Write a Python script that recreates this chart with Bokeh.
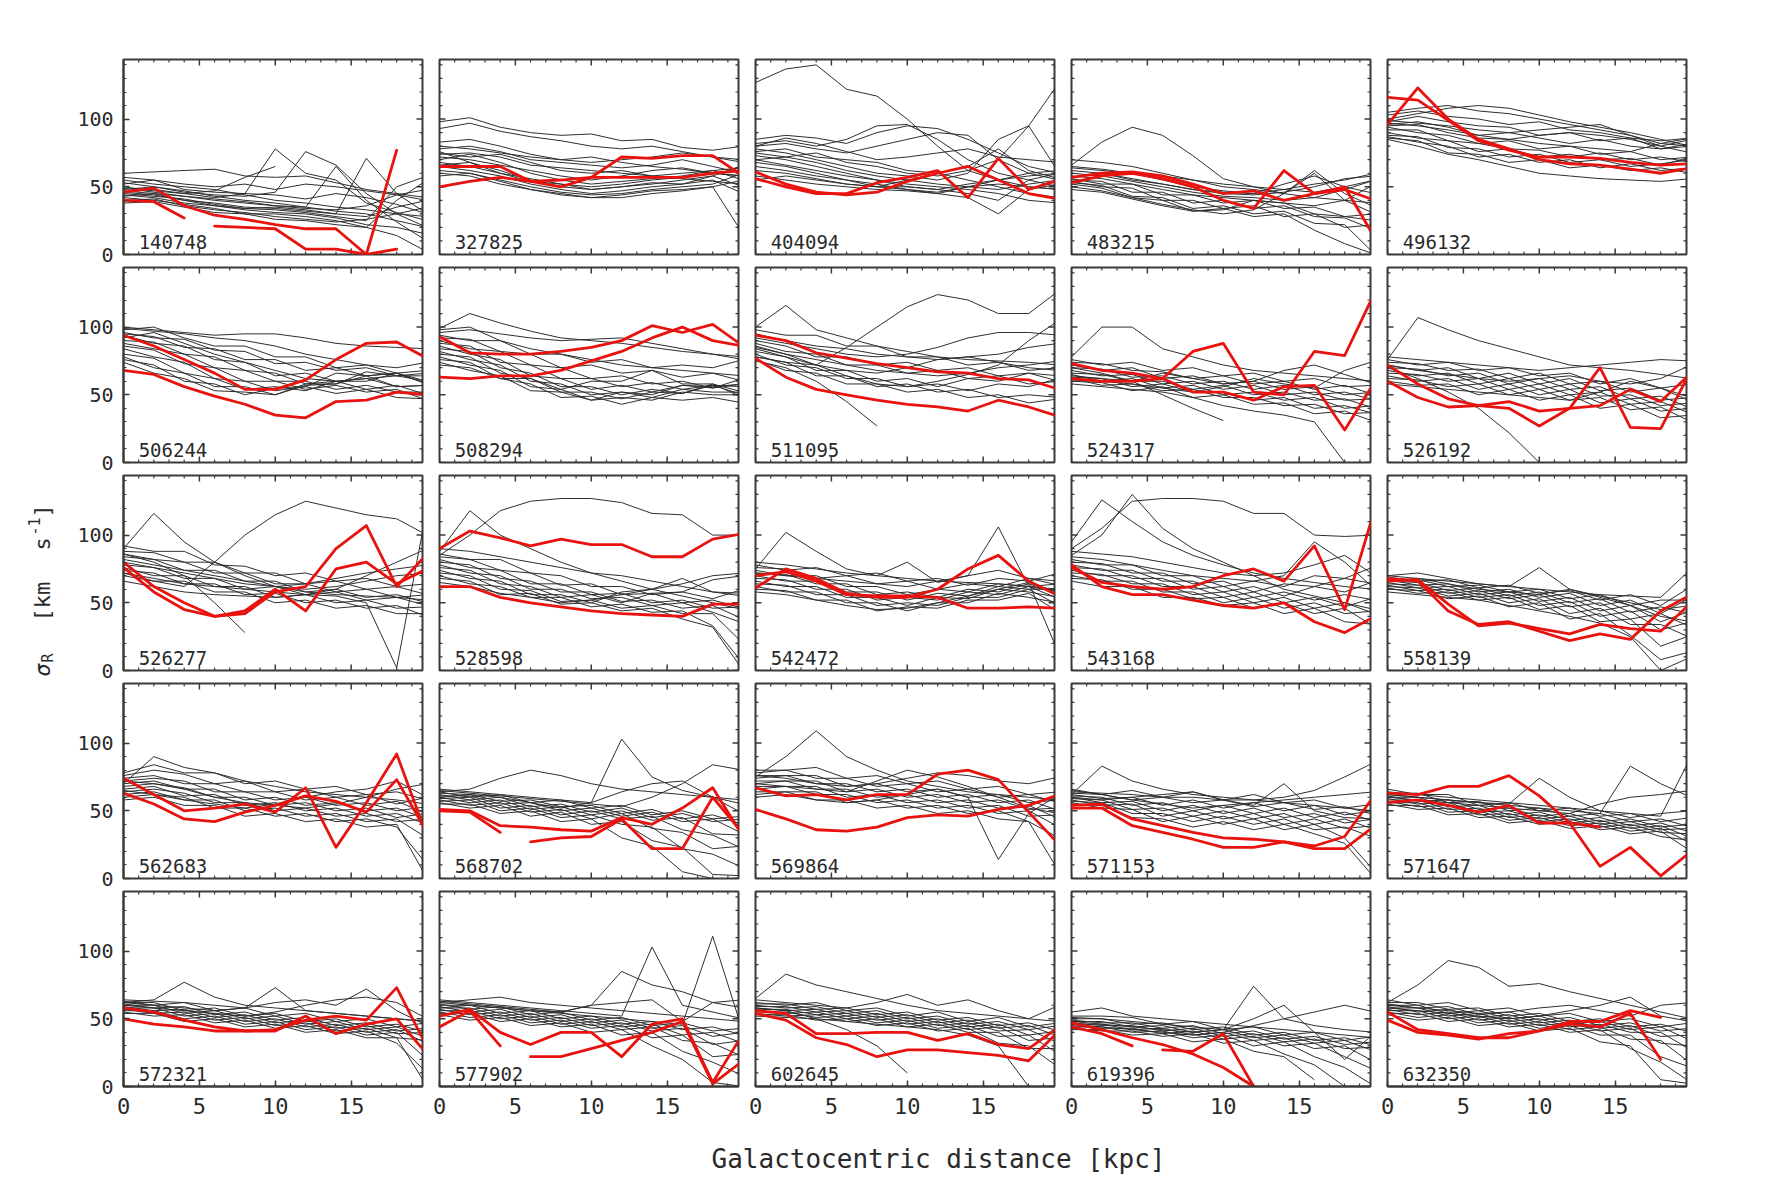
import numpy as np
from bokeh.plotting import figure
from bokeh.layouts import row, column
from bokeh.models import SingleIntervalTicker, Range1d, Label
from bokeh.embed import file_html
from bokeh.resources import INLINE
from bokeh.core.properties import value

N = None
R_KPC = [0, 2, 4, 6, 8, 10, 12, 14, 16, 18, 20]

IDS = ["140748", "327825", "404094", "483215", "496132",
       "506244", "508294", "511095", "524317", "526192",
       "526277", "528598", "542472", "543168", "558139",
       "562683", "568702", "569864", "571153", "571647",
       "572321", "577902", "602645", "619396", "632350"]

# ---------------- black (other) profiles, sigma_R [km/s] at R_KPC ----------------
BLACK_140748 = [
    [60, 61, 62, 63, 58, 57, 58, 53, 48, 45, 42],
    [57, 55, 52, 50, 52, 48, 52, 50, 47, 44, 40],
    [52, 55, 48, 46, 45, 44, 41, 45, 42, 37, 30],
    [50, 47, 45, 42, 45, 78, 60, 55, 38, 31, 25],
    [48, 50, 46, 44, 43, 46, 76, 66, 45, 30, 20],
    [47, 45, 43, 40, 38, 36, 35, 65, 40, 24, 10],
    [46, 44, 40, 38, 35, 34, 32, 30, 71, 45, 30],
    [45, 43, 41, 37, 34, 33, 31, 28, 25, 50, 58],
    [44, 42, 38, 36, 33, 31, 30, 27, 22, 20, 15],
    [42, 40, 37, 34, 30, 30, 28, 25, 20, 14, 2],
    [40, 41, 36, 33, 31, 28, 26, 24, 26, 30, 35],
    [38, 39, 35, 31, 30, 26, 25, 22, 20, 40, 55],
    [55, 52, 50, 48, 44, 40, 38, 35, 33, 30, 28],
    [53, 50, 47, 43, 40, 38, 35, 32, 30, 25, 20],
    [49, 46, 43, 41, 39, 36, 34, 33, 36, 44, 48],
    [43, 45, 40, 36, 34, 35, 33, 30, 28, 35, 40],
    [46, 48, 45, 47, 57, 65, N, N, N, N, N],
]
BLACK_327825 = [
    [98, 101, 94, 90, 88, 89, 84, 85, 79, 77, 80],
    [93, 97, 91, 87, 84, 80, 78, 80, 76, 72, 70],
    [80, 78, 75, 72, 70, 68, 70, 72, 75, 72, 68],
    [78, 80, 76, 70, 68, 66, 64, 66, 70, 65, 60],
    [75, 72, 74, 68, 62, 60, 62, 58, 60, 62, 55],
    [72, 70, 66, 62, 58, 55, 58, 62, 64, 60, 58],
    [70, 74, 68, 60, 55, 52, 54, 56, 58, 62, 64],
    [68, 65, 60, 56, 52, 50, 52, 55, 57, 60, 62],
    [66, 68, 62, 55, 50, 48, 50, 52, 55, 58, 50],
    [65, 62, 58, 52, 48, 45, 47, 50, 52, 55, 45],
    [62, 60, 55, 50, 46, 44, 45, 48, 50, 52, 60],
    [60, 58, 52, 48, 45, 42, 44, 47, 48, 50, 15],
    [58, 60, 54, 48, 44, 42, 42, 45, 47, 50, 55],
    [74, 75, 72, 66, 64, 62, 60, 58, 56, 54, 52],
    [83, 85, 80, 74, 70, 72, 68, 65, 63, 60, 58],
    [76, 68, 60, 54, 52, 48, 50, 53, 52, 58, 66],
]
BLACK_404094 = [
    [127, 137, 140, 122, 117, 100, 80, 62, 55, 50, 48],
    [70, 72, 75, 68, 65, 60, 58, 62, 70, 95, 127],
    [85, 88, 86, 82, 90, 95, 93, 85, 75, 65, 60],
    [82, 84, 80, 85, 95, 96, 85, 70, 60, 55, 50],
    [80, 82, 78, 75, 80, 85, 90, 88, 70, 60, 55],
    [78, 75, 70, 65, 60, 58, 55, 60, 85, 95, 60],
    [76, 78, 72, 70, 68, 62, 60, 55, 50, 45, 42],
    [75, 72, 68, 62, 58, 55, 52, 50, 48, 52, 55],
    [73, 70, 65, 60, 55, 52, 50, 48, 45, 40, 38],
    [70, 66, 62, 58, 55, 50, 48, 52, 55, 58, 60],
    [68, 65, 60, 55, 52, 48, 46, 50, 52, 50, 48],
    [65, 62, 58, 55, 50, 50, 48, 45, 40, 55, 60],
    [62, 60, 56, 52, 50, 48, 45, 42, 30, 48, 52],
    [58, 55, 52, 50, 48, 47, 45, 50, 55, 60, 62],
    [55, 58, 55, 52, 50, 55, 60, 65, 78, 62, 56],
    [80, 86, 82, 76, 70, 72, 75, 78, 72, 70, 68],
]
BLACK_483215 = [
    [66, 83, 94, 88, 73, 56, 50, 45, 42, 40, 38],
    [70, 68, 65, 60, 55, 50, 48, 45, 60, 40, 30],
    [65, 63, 60, 55, 50, 47, 45, 48, 52, 55, 60],
    [62, 60, 56, 52, 48, 45, 44, 46, 50, 56, 58],
    [60, 58, 54, 50, 46, 43, 42, 40, 42, 48, 55],
    [58, 56, 52, 48, 44, 42, 40, 38, 36, 40, 52],
    [56, 52, 52, 44, 44, 38, 40, 34, 35, 28, 30],
    [55, 54, 46, 46, 38, 40, 34, 36, 28, 27, 18],
    [54, 50, 49, 40, 40, 34, 36, 28, 30, 20, 22],
    [53, 51, 43, 42, 34, 36, 30, 32, 23, 22, 0],
    [52, 49, 42, 40, 32, 34, 28, 30, 18, 8, 0],
    [50, 47, 42, 37, 33, 30, 33, 45, 62, 45, 35],
    [48, 46, 41, 36, 32, 33, 40, 38, 30, 28, 25],
    [64, 62, 60, 58, 55, 52, 50, 48, 46, 50, 55],
    [57, 60, 55, 52, 48, 46, 45, 52, 58, 50, 45],
]
BLACK_496132 = [
    [105, 108, 110, 106, 104, 100, 96, 92, 88, 82, 80],
    [103, 106, 102, 100, 96, 98, 92, 90, 86, 84, 86],
    [100, 104, 108, 110, 108, 103, 98, 94, 90, 85, 80],
    [98, 102, 98, 95, 94, 88, 90, 84, 86, 78, 80],
    [96, 98, 94, 88, 90, 86, 82, 85, 80, 78, 82],
    [95, 96, 90, 86, 85, 88, 90, 88, 85, 80, 75],
    [94, 90, 88, 82, 84, 78, 80, 74, 76, 70, 72],
    [92, 92, 84, 82, 78, 77, 72, 75, 70, 72, 68],
    [90, 86, 84, 76, 78, 72, 74, 70, 71, 66, 72],
    [88, 87, 79, 78, 72, 74, 68, 70, 65, 67, 70],
    [87, 83, 80, 72, 74, 68, 70, 64, 67, 62, 64],
    [86, 84, 75, 74, 68, 70, 64, 66, 62, 64, 60],
    [85, 80, 74, 70, 65, 60, 58, 56, 55, 54, 56],
    [99, 97, 95, 92, 90, 92, 94, 96, 88, 80, 85],
    [97, 95, 92, 88, 85, 82, 80, 78, 76, 82, 86],
]
BLACK_506244 = [
    [100, 98, 96, 94, 95, 95, 92, 88, 86, 85, 84],
    [98, 100, 92, 86, 86, 78, 78, 70, 72, 66, 68],
    [96, 92, 91, 83, 82, 73, 74, 68, 70, 64, 66],
    [95, 93, 85, 84, 76, 76, 68, 70, 64, 66, 60],
    [94, 88, 86, 76, 74, 64, 66, 60, 62, 56, 57],
    [92, 96, 88, 80, 74, 68, 62, 60, 62, 64, 60],
    [90, 89, 80, 78, 68, 66, 58, 60, 54, 57, 50],
    [88, 84, 80, 70, 68, 60, 60, 54, 57, 52, 52],
    [86, 83, 73, 70, 60, 60, 54, 57, 52, 54, 46],
    [84, 78, 74, 62, 60, 53, 56, 51, 54, 48, 47],
    [80, 77, 66, 62, 54, 56, 53, 60, 60, 66, 58],
    [78, 70, 66, 56, 56, 50, 57, 58, 67, 64, 64],
    [76, 72, 60, 58, 50, 55, 56, 66, 64, 66, 58],
    [74, 66, 62, 53, 52, 50, 58, 58, 64, 56, 57],
    [99, 97, 95, 92, 90, 86, 80, 76, 72, 70, 74],
]
BLACK_508294 = [
    [99, 110, 103, 97, 92, 90, 88, 85, 82, 80, 78],
    [96, 98, 95, 92, 90, 91, 92, 88, 84, 80, 76],
    [94, 90, 90, 80, 80, 74, 76, 70, 72, 70, 76],
    [92, 91, 82, 80, 70, 72, 66, 68, 63, 66, 60],
    [90, 84, 82, 72, 70, 62, 64, 58, 60, 55, 58],
    [88, 86, 74, 72, 62, 62, 56, 59, 54, 57, 56],
    [86, 80, 76, 64, 62, 54, 57, 52, 57, 55, 62],
    [84, 82, 70, 66, 56, 56, 50, 54, 51, 57, 50],
    [82, 76, 72, 60, 58, 50, 52, 48, 54, 52, 52],
    [80, 78, 66, 62, 52, 52, 47, 52, 51, 58, 48],
    [78, 72, 68, 56, 54, 46, 48, 46, 52, 50, 50],
    [76, 74, 62, 58, 48, 49, 43, 48, 46, 48, 44],
    [74, 68, 64, 53, 52, 46, 52, 50, 57, 56, 58],
    [72, 70, 62, 62, 54, 60, 60, 68, 58, 58, 52],
    [98, 100, 90, 84, 80, 76, 72, 70, 68, 66, 64],
]
BLACK_511095 = [
    [100, 116, 98, 92, 86, 82, 78, 76, 75, 74, 72],
    [98, 94, 94, 86, 86, 78, 78, 72, 74, 68, 70],
    [95, 90, 86, 84, 80, 78, 76, 78, 80, 85, 88],
    [92, 88, 84, 80, 78, 80, 85, 92, 96, 96, 94],
    [90, 86, 78, 78, 72, 74, 68, 70, 64, 66, 60],
    [88, 82, 80, 72, 72, 66, 68, 62, 64, 58, 60],
    [86, 80, 76, 72, 68, 66, 64, 66, 70, 72, 75],
    [84, 78, 72, 68, 66, 70, 76, 78, 74, 70, 68],
    [82, 78, 68, 68, 60, 62, 56, 62, 60, 66, 64],
    [80, 72, 70, 62, 62, 56, 58, 53, 58, 56, 62],
    [78, 74, 64, 64, 56, 58, 52, 54, 48, 50, 48],
    [76, 68, 66, 58, 58, 52, 54, 48, 50, 44, 47],
    [75, 70, 60, 45, 27, N, N, N, N, N, N],
    [78, 74, 72, 85, 100, 115, 124, 120, 110, 110, 127],
    [85, 80, 72, 64, 58, 56, 60, 65, 72, 90, 105],
]
BLACK_524317 = [
    [78, 100, 100, 84, 78, 72, 68, 66, 64, 62, 60],
    [76, 72, 74, 68, 70, 64, 66, 60, 62, 56, 57],
    [74, 73, 68, 67, 62, 64, 58, 60, 54, 57, 50],
    [72, 68, 70, 62, 64, 58, 60, 54, 56, 50, 52],
    [70, 69, 63, 64, 58, 60, 54, 57, 50, 52, 46],
    [68, 64, 65, 58, 60, 54, 57, 50, 52, 46, 47],
    [66, 65, 60, 60, 54, 57, 50, 52, 46, 47, 40],
    [65, 60, 62, 55, 57, 50, 52, 46, 48, 40, 42],
    [63, 62, 56, 58, 52, 52, 46, 48, 40, 42, 36],
    [62, 57, 58, 53, 54, 48, 48, 42, 43, 36, 37],
    [60, 59, 53, 56, 48, 50, 43, 44, 36, 38, 30],
    [58, 56, 54, 52, 48, 42, 38, 35, 30, 0, N],
    [70, 66, 60, 50, 40, 31, N, N, N, N, N],
    [64, 62, 60, 66, 62, 58, 60, 68, 72, 65, 58],
    [61, 60, 58, 55, 52, 56, 62, 58, 55, 68, 75],
]
BLACK_526192 = [
    [76, 107, 98, 90, 84, 78, 72, 70, 68, 65, 62],
    [78, 76, 74, 72, 70, 68, 70, 72, 74, 76, 75],
    [76, 72, 74, 68, 70, 64, 66, 58, 62, 55, 58],
    [74, 73, 68, 69, 62, 66, 58, 60, 52, 55, 48],
    [72, 68, 70, 62, 66, 58, 62, 53, 55, 46, 48],
    [70, 69, 64, 66, 58, 62, 54, 56, 47, 49, 40],
    [68, 64, 66, 58, 62, 54, 58, 49, 50, 42, 44],
    [66, 65, 60, 62, 54, 58, 50, 52, 43, 45, 36],
    [64, 60, 62, 54, 58, 50, 54, 44, 47, 38, 40],
    [62, 61, 56, 58, 50, 54, 46, 48, 39, 41, 30],
    [60, 57, 58, 50, 54, 46, 50, 40, 43, 33, 35],
    [70, 62, 52, 40, 22, 0, N, N, N, N, N],
    [58, 56, 54, 52, 50, 48, 46, 52, 60, 55, 45],
    [72, 68, 65, 62, 60, 62, 64, 60, 58, 62, 72],
]
BLACK_526277 = [
    [90, 116, 95, 80, 70, 62, 58, 56, 55, 54, 52],
    [92, 88, 88, 78, 77, 70, 72, 66, 68, 62, 64],
    [88, 87, 80, 80, 72, 72, 64, 66, 60, 62, 56],
    [86, 82, 80, 72, 72, 64, 64, 58, 60, 54, 56],
    [84, 82, 74, 74, 66, 66, 58, 60, 54, 56, 50],
    [82, 78, 74, 70, 66, 62, 60, 62, 66, 70, 72],
    [80, 76, 72, 68, 64, 62, 64, 68, 72, 75, 78],
    [78, 76, 68, 68, 60, 62, 56, 58, 52, 54, 48],
    [76, 70, 70, 62, 62, 54, 56, 50, 52, 46, 47],
    [74, 72, 64, 64, 56, 57, 50, 52, 46, 48, 40],
    [72, 66, 66, 58, 58, 50, 52, 46, 48, 42, 42],
    [86, 80, 70, 50, 28, N, N, N, N, N, N],
    [70, 66, 62, 80, 100, 115, 125, 120, 115, 112, 100],
    [72, 68, 64, 62, 60, 58, 56, 55, 50, 2, 120],
    [66, 62, 58, 56, 55, 54, 56, 60, 70, 80, 90],
]
BLACK_528598 = [
    [85, 100, 118, 125, 127, 127, 124, 116, 115, 100, 100],
    [88, 118, 100, 90, 80, 72, 66, 60, 55, 50, 45],
    [86, 82, 82, 72, 70, 62, 62, 56, 58, 53, 60],
    [84, 82, 74, 72, 63, 64, 56, 57, 50, 52, 46],
    [82, 76, 74, 64, 64, 56, 57, 50, 52, 46, 47],
    [80, 78, 68, 66, 58, 58, 51, 52, 46, 48, 38],
    [78, 72, 70, 60, 60, 53, 54, 48, 50, 43, 35],
    [76, 74, 64, 62, 54, 56, 50, 57, 58, 67, 70],
    [74, 68, 66, 56, 56, 50, 58, 60, 68, 58, 57],
    [72, 70, 60, 59, 51, 52, 46, 48, 42, 42, 20],
    [70, 64, 62, 54, 54, 47, 49, 43, 44, 33, 5],
    [68, 66, 56, 57, 49, 50, 44, 46, 38, 32, 0],
    [65, 62, 57, 54, 50, 52, 56, 60, 64, 70, 72],
    [90, 88, 84, 80, 76, 72, 70, 66, 62, 58, 55],
]
BLACK_542472 = [
    [75, 102, 88, 75, 70, 68, 66, 65, 64, 62, 60],
    [78, 74, 76, 70, 72, 66, 68, 63, 68, 66, 72],
    [76, 75, 68, 70, 64, 66, 60, 64, 62, 68, 63],
    [74, 70, 70, 62, 62, 56, 60, 58, 64, 62, 64],
    [72, 71, 64, 64, 56, 58, 54, 60, 58, 64, 58],
    [70, 66, 66, 58, 58, 52, 57, 55, 62, 60, 60],
    [68, 67, 60, 60, 52, 54, 52, 58, 56, 62, 53],
    [66, 62, 62, 54, 54, 48, 54, 53, 60, 58, 54],
    [64, 63, 56, 56, 48, 50, 48, 54, 54, 60, 48],
    [62, 58, 58, 50, 50, 44, 50, 50, 57, 54, 50],
    [60, 59, 52, 52, 44, 47, 46, 52, 52, 57, 43],
    [58, 56, 52, 48, 45, 46, 50, 55, 60, 65, 12],
    [80, 78, 75, 72, 70, 80, 65, 70, 106, 62, 58],
    [72, 70, 68, 66, 64, 62, 66, 70, 74, 68, 66],
]
BLACK_543168 = [
    [85, 100, 130, 105, 90, 80, 70, 60, 55, 50, 45],
    [90, 105, 125, 127, 127, 125, 116, 116, 100, 99, 100],
    [95, 126, 110, 95, 85, 78, 72, 68, 65, 62, 60],
    [88, 86, 84, 80, 76, 72, 70, 72, 78, 85, 70],
    [84, 82, 78, 74, 70, 68, 66, 70, 95, 80, 60],
    [82, 78, 78, 70, 70, 62, 66, 62, 70, 68, 77],
    [80, 79, 72, 72, 64, 66, 58, 64, 62, 68, 64],
    [78, 74, 74, 66, 66, 58, 62, 55, 62, 58, 66],
    [76, 75, 68, 68, 60, 62, 54, 58, 52, 56, 52],
    [74, 70, 70, 62, 62, 54, 58, 50, 54, 47, 54],
    [72, 71, 64, 64, 56, 58, 50, 54, 46, 50, 42],
    [70, 66, 66, 58, 58, 50, 54, 46, 50, 42, 44],
    [68, 67, 60, 60, 53, 54, 46, 50, 42, 46, 32],
    [66, 62, 62, 54, 54, 48, 50, 42, 46, 36, 34],
]
BLACK_558139 = [
    [70, 68, 66, 64, 62, 60, 58, 56, 55, 54, 75],
    [69, 66, 67, 61, 63, 57, 59, 52, 56, 48, 62],
    [68, 67, 62, 63, 58, 60, 53, 56, 48, 52, 52],
    [67, 63, 64, 58, 60, 54, 57, 48, 52, 42, 54],
    [66, 65, 59, 61, 55, 58, 50, 53, 43, 47, 42],
    [65, 61, 62, 56, 58, 51, 54, 44, 48, 36, 44],
    [64, 63, 57, 59, 53, 56, 47, 50, 38, 42, 32],
    [63, 59, 60, 54, 56, 48, 51, 40, 44, 30, 36],
    [62, 61, 55, 57, 50, 53, 42, 46, 34, 34, 24],
    [61, 57, 58, 52, 54, 45, 48, 36, 38, 18, 26],
    [60, 59, 53, 55, 47, 50, 38, 42, 26, 8, 14],
    [58, 56, 54, 52, 48, 44, 40, 35, 25, 0, 10],
    [70, 72, 68, 64, 62, 76, 60, 55, 50, 45, 48],
    [66, 68, 64, 60, 58, 56, 60, 54, 48, 40, 36],
]
BLACK_562683 = [
    [70, 90, 82, 78, 72, 68, 64, 62, 60, 58, 55],
    [78, 84, 78, 78, 70, 72, 66, 68, 62, 64, 58],
    [76, 80, 77, 70, 72, 64, 66, 60, 62, 55, 60],
    [74, 76, 70, 70, 64, 64, 58, 60, 54, 57, 48],
    [72, 74, 72, 64, 64, 58, 60, 54, 56, 50, 53],
    [70, 72, 66, 66, 58, 60, 54, 56, 50, 52, 44],
    [68, 70, 67, 60, 60, 54, 56, 50, 52, 45, 48],
    [66, 68, 61, 62, 54, 56, 50, 52, 46, 48, 40],
    [64, 66, 63, 56, 56, 50, 52, 46, 48, 42, 44],
    [62, 64, 58, 58, 50, 52, 46, 48, 42, 44, 30],
    [60, 62, 60, 52, 52, 46, 48, 42, 44, 38, 10],
    [58, 60, 54, 54, 46, 48, 42, 44, 38, 40, 0],
    [65, 62, 58, 55, 52, 55, 60, 64, 66, 72, 60],
    [72, 70, 66, 60, 56, 54, 52, 55, 60, 66, 70],
]
BLACK_568702 = [
    [64, 66, 74, 80, 76, 70, 66, 64, 62, 60, 58],
    [66, 64, 62, 60, 58, 56, 103, 75, 65, 60, 55],
    [65, 63, 61, 59, 57, 55, 53, 60, 70, 84, 80],
    [64, 60, 62, 56, 58, 52, 54, 47, 50, 44, 46],
    [63, 62, 57, 58, 53, 54, 48, 51, 44, 47, 40],
    [62, 58, 60, 53, 55, 49, 52, 45, 48, 42, 44],
    [61, 61, 55, 56, 50, 52, 46, 49, 42, 44, 33],
    [60, 56, 58, 51, 53, 47, 50, 43, 45, 33, 32],
    [59, 60, 52, 54, 47, 50, 44, 46, 36, 32, 22],
    [58, 54, 56, 49, 51, 44, 48, 37, 34, 22, 24],
    [57, 58, 50, 52, 45, 47, 40, 38, 22, 18, 8],
    [56, 52, 54, 46, 49, 40, 42, 28, 23, 3, 2],
    [55, 55, 48, 50, 42, 44, 30, 24, 5, 0, N],
    [60, 62, 60, 56, 52, 56, 64, 70, 72, 60, 48],
]
BLACK_569864 = [
    [75, 90, 109, 90, 80, 72, 68, 64, 62, 60, 58],
    [80, 80, 82, 74, 76, 70, 72, 66, 68, 62, 64],
    [78, 80, 74, 74, 68, 70, 64, 66, 60, 62, 56],
    [76, 76, 76, 68, 70, 64, 66, 60, 62, 56, 58],
    [74, 76, 70, 70, 64, 66, 60, 62, 56, 58, 50],
    [72, 72, 72, 64, 66, 60, 62, 56, 58, 51, 52],
    [70, 72, 66, 66, 60, 62, 56, 58, 52, 54, 44],
    [68, 68, 68, 60, 62, 56, 58, 52, 54, 46, 47],
    [66, 68, 62, 62, 56, 58, 52, 54, 48, 50, 38],
    [64, 64, 64, 56, 58, 52, 54, 48, 50, 42, 30],
    [62, 64, 58, 58, 52, 54, 48, 50, 44, 42, 5],
    [70, 68, 66, 64, 72, 80, 75, 68, 60, 52, 48],
    [60, 62, 58, 56, 58, 62, 66, 60, 14, 48, 62],
    [76, 74, 70, 68, 70, 74, 78, 76, 72, 70, 75],
]
BLACK_571153 = [
    [62, 83, 72, 66, 62, 60, 58, 56, 54, 52, 50],
    [65, 62, 65, 60, 64, 58, 62, 56, 58, 52, 55],
    [64, 63, 62, 60, 60, 58, 58, 60, 65, 75, 86],
    [63, 62, 58, 60, 56, 58, 53, 56, 51, 53, 47],
    [62, 59, 60, 54, 58, 52, 56, 50, 54, 47, 50],
    [61, 60, 54, 56, 50, 54, 48, 52, 45, 49, 42],
    [60, 56, 57, 50, 54, 48, 52, 45, 48, 41, 44],
    [59, 58, 51, 52, 46, 50, 44, 48, 40, 44, 36],
    [58, 54, 55, 46, 50, 44, 48, 40, 44, 37, 39],
    [57, 56, 48, 48, 42, 46, 40, 44, 36, 38, 30],
    [56, 52, 51, 42, 46, 40, 44, 36, 40, 30, 5],
    [55, 54, 45, 44, 38, 42, 36, 40, 33, 26, 0],
    [60, 58, 60, 62, 64, 58, 54, 70, 50, 45, 44],
    [66, 62, 58, 55, 52, 54, 56, 58, 60, 62, 64],
]
BLACK_571647 = [
    [62, 60, 58, 56, 54, 52, 50, 48, 83, 70, 60],
    [64, 62, 60, 58, 56, 54, 52, 50, 48, 46, 90],
    [66, 62, 62, 54, 56, 50, 52, 46, 48, 42, 45],
    [63, 63, 56, 57, 50, 52, 46, 48, 42, 44, 38],
    [61, 57, 58, 51, 52, 46, 48, 42, 44, 38, 40],
    [60, 60, 53, 54, 47, 49, 43, 45, 39, 41, 34],
    [59, 55, 56, 49, 50, 44, 46, 40, 42, 36, 37],
    [58, 58, 51, 52, 45, 47, 41, 43, 37, 39, 30],
    [57, 53, 54, 47, 48, 42, 44, 38, 40, 34, 33],
    [56, 56, 49, 50, 43, 45, 39, 41, 35, 37, 26],
    [55, 51, 52, 45, 46, 40, 42, 36, 38, 31, 28],
    [54, 54, 47, 48, 41, 43, 37, 39, 33, 35, 20],
    [60, 58, 56, 54, 52, 50, 48, 55, 60, 62, 65],
    [62, 60, 58, 56, 55, 74, 60, 50, 45, 48, 50],
]
BLACK_572321 = [
    [62, 64, 77, 66, 60, 58, 56, 54, 52, 50, 48],
    [64, 63, 62, 60, 58, 73, 56, 54, 52, 50, 48],
    [63, 60, 62, 56, 58, 52, 54, 48, 50, 44, 47],
    [62, 62, 56, 58, 52, 54, 48, 50, 44, 46, 40],
    [61, 58, 59, 53, 55, 49, 51, 45, 47, 41, 43],
    [60, 60, 54, 56, 50, 52, 46, 48, 42, 44, 36],
    [59, 56, 57, 51, 53, 47, 49, 43, 45, 39, 40],
    [58, 58, 52, 54, 48, 50, 44, 46, 40, 42, 32],
    [57, 54, 55, 49, 51, 45, 47, 41, 43, 36, 34],
    [56, 56, 50, 52, 46, 48, 42, 44, 38, 40, 20],
    [55, 52, 53, 47, 49, 43, 45, 39, 41, 32, 10],
    [54, 54, 48, 50, 44, 46, 40, 42, 36, 36, 0],
    [60, 58, 56, 54, 52, 55, 60, 64, 66, 62, 50],
    [62, 60, 58, 56, 58, 62, 64, 60, 72, 56, 45],
]
BLACK_577902 = [
    [62, 64, 66, 62, 60, 58, 56, 54, 52, 50, 48],
    [64, 62, 60, 58, 56, 54, 52, 103, 60, 55, 50],
    [63, 61, 59, 57, 55, 60, 85, 75, 70, 62, 58],
    [62, 60, 58, 56, 54, 52, 50, 48, 46, 111, 40],
    [61, 57, 59, 53, 55, 49, 51, 45, 47, 41, 43],
    [60, 60, 54, 56, 50, 52, 46, 48, 42, 44, 38],
    [59, 55, 57, 51, 53, 47, 49, 43, 45, 37, 40],
    [58, 58, 52, 54, 48, 50, 44, 46, 38, 40, 32],
    [57, 53, 55, 49, 51, 45, 47, 41, 43, 31, 34],
    [56, 56, 50, 52, 46, 48, 42, 44, 34, 32, 22],
    [55, 51, 53, 47, 49, 43, 45, 36, 38, 22, 24],
    [54, 54, 48, 50, 44, 46, 38, 40, 26, 18, 8],
    [53, 49, 51, 45, 47, 40, 42, 30, 20, 3, 0],
    [58, 60, 58, 56, 55, 60, 62, 64, 48, 62, 64],
]
BLACK_602645 = [
    [65, 83, 75, 70, 65, 60, 56, 54, 52, 50, 48],
    [62, 60, 62, 56, 58, 52, 55, 48, 51, 44, 47],
    [61, 61, 57, 58, 53, 55, 49, 51, 45, 47, 41],
    [60, 58, 59, 54, 56, 50, 52, 46, 48, 42, 45],
    [59, 59, 55, 56, 51, 53, 47, 49, 43, 45, 37],
    [58, 56, 57, 52, 54, 48, 50, 44, 46, 38, 41],
    [57, 57, 53, 54, 49, 51, 45, 47, 41, 42, 32],
    [56, 54, 55, 50, 52, 46, 48, 42, 44, 34, 36],
    [55, 55, 51, 52, 47, 49, 43, 45, 37, 38, 24],
    [54, 52, 53, 48, 50, 44, 46, 40, 40, 28, 28],
    [53, 53, 49, 50, 45, 47, 41, 43, 32, 30, 14],
    [52, 51, 50, 48, 46, 44, 42, 38, 30, 0, N],
    [58, 56, 50, 42, 30, 10, N, N, N, N, N],
    [64, 62, 60, 58, 62, 68, 60, 64, 56, 50, 60],
]
BLACK_619396 = [
    [55, 58, 52, 50, 48, 46, 44, 42, 40, 38, 36],
    [52, 52, 51, 46, 48, 42, 44, 38, 40, 34, 37],
    [51, 50, 48, 46, 44, 42, 74, 50, 45, 42, 40],
    [50, 50, 46, 47, 42, 44, 38, 40, 34, 36, 30],
    [49, 47, 47, 43, 45, 39, 41, 35, 37, 31, 33],
    [48, 48, 44, 45, 40, 42, 36, 38, 32, 34, 26],
    [47, 45, 45, 41, 43, 37, 39, 33, 35, 28, 29],
    [46, 46, 42, 43, 38, 40, 34, 36, 28, 30, 18],
    [45, 43, 43, 39, 41, 35, 37, 30, 32, 22, 12],
    [44, 44, 40, 41, 36, 38, 30, 33, 22, 14, 0],
    [43, 41, 41, 37, 39, 32, 34, 24, 16, 0, N],
    [42, 42, 38, 39, 33, 35, 26, 22, 5, N, N],
    [48, 46, 44, 42, 40, 42, 50, 60, 40, 20, 40],
    [46, 44, 42, 40, 38, 40, 45, 50, 55, 60, 55],
]
BLACK_632350 = [
    [62, 75, 93, 88, 74, 76, 70, 65, 60, 55, 50],
    [64, 60, 62, 56, 58, 52, 54, 48, 50, 44, 47],
    [62, 62, 57, 58, 52, 54, 48, 50, 44, 46, 40],
    [61, 58, 59, 53, 55, 49, 51, 45, 47, 41, 43],
    [60, 60, 54, 56, 50, 52, 46, 48, 42, 44, 34],
    [59, 55, 57, 51, 53, 47, 49, 43, 45, 37, 38],
    [58, 58, 52, 54, 48, 50, 44, 46, 40, 40, 27],
    [57, 53, 55, 49, 51, 45, 47, 41, 43, 32, 30],
    [56, 56, 50, 52, 46, 48, 42, 44, 35, 34, 17],
    [55, 51, 53, 47, 49, 43, 45, 38, 38, 22, 14],
    [54, 54, 48, 50, 44, 46, 40, 42, 28, 18, 3],
    [53, 49, 51, 45, 47, 41, 43, 33, 30, 5, 2],
    [58, 56, 54, 52, 50, 52, 56, 60, 66, 52, 48],
    [60, 58, 56, 54, 55, 58, 60, 56, 52, 60, 62],
]

# ---------------- red (highlighted) profiles ----------------
RED_140748 = [[46, 49, 36, 29, 26, 22, 19, 19, 0, 77, N],
              [40, 39, 27, N, N, N, N, N, N, N, N],
              [N, N, N, 21, 20, 19, 4, 4, 0, 4, N]]
RED_327825 = [[65, 65, 65, 54, 50, 57, 72, 71, 73, 73, 58],
              [50, 54, 57, 54, 55, 57, 57, 57, 57, 60, 62]]
RED_404094 = [[61, 52, 46, 44, 46, 54, 60, 65, 55, 45, 41],
              [56, 50, 45, 45, 53, 57, 62, 42, 71, 48, 55]]
RED_483215 = [[57, 60, 61, 58, 52, 45, 47, 40, 45, 48, 40],
              [53, 58, 60, 56, 50, 40, 34, 62, 45, 50, 12]]
RED_496132 = [[96, 123, 100, 85, 78, 70, 67, 66, 63, 60, 64],
              [116, 114, 99, 84, 77, 72, 72, 71, 68, 66, 67]]
RED_506244 = [[94, 86, 76, 66, 54, 54, 61, 76, 88, 89, 77],
              [68, 65, 56, 49, 43, 35, 33, 45, 46, 52, 50]]
RED_508294 = [[93, 81, 80, 80, 82, 85, 90, 101, 96, 102, 86],
              [63, 62, 64, 64, 68, 75, 82, 92, 100, 90, 86]]
RED_511095 = [[94, 90, 81, 77, 73, 70, 67, 66, 62, 61, 54],
              [77, 63, 54, 50, 46, 43, 41, 38, 46, 41, 34]]
RED_524317 = [[73, 68, 66, 62, 82, 88, 52, 50, 82, 79, 126],
              [62, 60, 60, 62, 52, 52, 46, 56, 57, 24, 60]]
RED_526192 = [[72, 58, 47, 42, 40, 27, 40, 70, 26, 25, 68],
              [60, 48, 41, 42, 45, 38, 40, 42, 54, 45, 66]]
RED_526277 = [[80, 62, 50, 40, 42, 58, 62, 90, 107, 62, 86],
              [76, 58, 45, 40, 44, 60, 44, 75, 80, 64, 75]]
RED_528598 = [[90, 103, 98, 92, 97, 93, 93, 84, 84, 97, 101],
              [62, 62, 54, 50, 47, 44, 42, 41, 40, 49, 49]]
RED_542472 = [[61, 75, 68, 57, 54, 54, 60, 75, 85, 66, 55],
              [70, 73, 66, 56, 55, 55, 54, 46, 46, 47, 46]]
RED_543168 = [[78, 62, 56, 56, 52, 48, 46, 50, 36, 28, 40],
              [76, 65, 62, 60, 62, 70, 75, 66, 92, 45, 120]]
RED_558139 = [[68, 66, 44, 34, 36, 29, 22, 27, 23, 44, 56],
              [66, 67, 49, 33, 35, 31, 27, 34, 31, 29, 50]]
RED_562683 = [[74, 62, 50, 52, 55, 49, 67, 23, 56, 92, 31],
              [63, 55, 44, 42, 49, 54, 61, 57, 49, 73, 34]]
RED_568702 = [[51, 50, 39, 38, 36, 35, 45, 40, 52, 67, 31],
              [50, 49, 34, N, N, N, N, N, N, N, N],
              [N, N, N, 27, 30, 31, 44, 22, 22, 60, 33]]
RED_569864 = [[67, 61, 62, 58, 62, 62, 77, 80, 73, 49, 25],
              [51, 44, 36, 35, 38, 45, 47, 46, 51, 54, 62]]
RED_571153 = [[54, 55, 44, 39, 34, 30, 29, 27, 24, 31, 62],
              [52, 52, 39, 34, 29, 23, 23, 27, 22, 22, 39]]
RED_571647 = [[63, 62, 68, 68, 76, 61, 41, 9, 23, 2, 20],
              [56, 58, 54, 49, 54, 41, 41, 38, N, N, N]]
RED_572321 = [[58, 55, 49, 44, 41, 42, 49, 52, 49, 73, 29],
              [50, 46, 44, 41, 41, 41, 52, 39, 46, 50, 24]]
RED_577902 = [[52, 57, 40, 31, 40, 40, 22, 46, 50, 3, 39],
              [44, 56, 30, N, N, N, N, N, N, N, N],
              [N, N, N, 22, 22, 28, 34, 40, 48, 2, 19]]
RED_602645 = [[56, 54, 39, 39, 40, 40, 34, 39, 31, 28, 44],
              [54, 49, 36, 31, 22, 27, 27, 25, 23, 19, 41]]
RED_619396 = [[47, 42, 36, 31, 24, 14, 0, N, N, N, N],
              [44, 39, 30, N, N, N, N, N, N, N, N],
              [N, N, N, 27, 26, 39, 0, N, N, N, N]]
RED_632350 = [[55, 42, 39, 36, 36, 41, 48, 48, 56, 51, N],
              [49, 40, 38, 35, 39, 41, 46, 44, 54, 20, N]]

BLACK = {
    "140748": BLACK_140748, "327825": BLACK_327825, "404094": BLACK_404094,
    "483215": BLACK_483215, "496132": BLACK_496132, "506244": BLACK_506244,
    "508294": BLACK_508294, "511095": BLACK_511095, "524317": BLACK_524317,
    "526192": BLACK_526192, "526277": BLACK_526277, "528598": BLACK_528598,
    "542472": BLACK_542472, "543168": BLACK_543168, "558139": BLACK_558139,
    "562683": BLACK_562683, "568702": BLACK_568702, "569864": BLACK_569864,
    "571153": BLACK_571153, "571647": BLACK_571647, "572321": BLACK_572321,
    "577902": BLACK_577902, "602645": BLACK_602645, "619396": BLACK_619396,
    "632350": BLACK_632350,
}
RED = {
    "140748": RED_140748, "327825": RED_327825, "404094": RED_404094,
    "483215": RED_483215, "496132": RED_496132, "506244": RED_506244,
    "508294": RED_508294, "511095": RED_511095, "524317": RED_524317,
    "526192": RED_526192, "526277": RED_526277, "528598": RED_528598,
    "542472": RED_542472, "543168": RED_543168, "558139": RED_558139,
    "562683": RED_562683, "568702": RED_568702, "569864": RED_569864,
    "571153": RED_571153, "571647": RED_571647, "572321": RED_572321,
    "577902": RED_577902, "602645": RED_602645, "619396": RED_619396,
    "632350": RED_632350,
}

# ---------------- styling / layout ----------------
FONT = "DejaVu Sans Mono"
AX_COLOR = "#3a3a3a"
TXT_COLOR = "#2a2a2a"
FRAME_W, FRAME_H = 299, 195
X_MAX, Y_MAX = 19.7, 144
X_MAJOR_STEP, X_MINOR_STEP = 5, 1
Y_MAJOR_STEP, Y_MINOR_STEP = 50, 10
MAJOR_LEN, MINOR_LEN = 6, 3

X_MAJOR = [t for t in np.arange(0, X_MAX + 1e-9, X_MAJOR_STEP)]
X_MINOR = [t for t in np.arange(0, X_MAX + 1e-9, X_MINOR_STEP) if t % X_MAJOR_STEP != 0]
Y_MAJOR = [t for t in np.arange(0, Y_MAX + 1e-9, Y_MAJOR_STEP)]
Y_MINOR = [t for t in np.arange(0, Y_MAX + 1e-9, Y_MINOR_STEP) if t % Y_MAJOR_STEP != 0]


def segments(values):
    """Split a series at missing values into (xs, ys) runs."""
    xs_out, ys_out = [], []
    cur_x, cur_y = [], []
    for xv, yv in zip(R_KPC, values):
        if yv is None:
            if len(cur_x) > 1:
                xs_out.append(cur_x); ys_out.append(cur_y)
            cur_x, cur_y = [], []
        else:
            cur_x.append(xv); cur_y.append(yv)
    if len(cur_x) > 1:
        xs_out.append(cur_x); ys_out.append(cur_y)
    return xs_out, ys_out


def style_axis(ax, is_x):
    ax.ticker = SingleIntervalTicker(interval=X_MAJOR_STEP if is_x else Y_MAJOR_STEP,
                                     num_minor_ticks=5)
    ax.axis_line_color = AX_COLOR
    ax.axis_line_width = 2
    ax.major_tick_in = MAJOR_LEN
    ax.major_tick_out = 0
    ax.minor_tick_in = MINOR_LEN
    ax.minor_tick_out = 0
    ax.major_tick_line_color = AX_COLOR
    ax.major_tick_line_width = 1.5
    ax.minor_tick_line_color = AX_COLOR
    ax.minor_tick_line_width = 1.2
    ax.major_label_text_font = FONT
    ax.major_label_text_font_size = "22px" if is_x else "20px"
    ax.major_label_text_color = TXT_COLOR
    ax.major_label_standoff = 11 if is_x else 10


def mirror_ticks(p, side):
    """Inward tick marks on an edge that carries no labelled axis."""
    if side in ("top", "bottom"):
        y0 = Y_MAX if side == "top" else 0
        ang = -np.pi / 2 if side == "top" else np.pi / 2
        for ticks, ln, lw in ((X_MAJOR, MAJOR_LEN, 1.5), (X_MINOR, MINOR_LEN, 1.2)):
            p.ray(x=ticks, y=[y0] * len(ticks), length=ln, length_units="screen",
                  angle=ang, line_color=AX_COLOR, line_width=lw)
    else:
        x0 = X_MAX if side == "right" else 0
        ang = np.pi if side == "right" else 0
        for ticks, ln, lw in ((Y_MAJOR, MAJOR_LEN, 1.5), (Y_MINOR, MINOR_LEN, 1.2)):
            p.ray(x=[x0] * len(ticks), y=ticks, length=ln, length_units="screen",
                  angle=ang, line_color=AX_COLOR, line_width=lw)


def make_panel(i, j, gid):
    left = 59 if j == 0 else 9
    right = 8
    top = 59 if i == 0 else 1
    bottom = 40 if i == 4 else 12
    p = figure(frame_width=FRAME_W, frame_height=FRAME_H,
               x_range=Range1d(0, X_MAX), y_range=Range1d(0, Y_MAX),
               output_backend="svg", toolbar_location=None,
               x_axis_location="below" if i == 4 else None,
               y_axis_location="left" if j == 0 else None,
               min_border_left=left, min_border_right=right,
               min_border_top=top, min_border_bottom=bottom)
    p.grid.visible = False
    p.outline_line_color = AX_COLOR
    p.outline_line_width = 2
    p.background_fill_color = "white"
    p.border_fill_color = "white"

    if i == 4:
        style_axis(p.xaxis[0], True)
    else:
        mirror_ticks(p, "bottom")
    if j == 0:
        style_axis(p.yaxis[0], False)
    else:
        mirror_ticks(p, "left")
    mirror_ticks(p, "top")
    mirror_ticks(p, "right")

    bx, by = [], []
    for series in BLACK[gid]:
        sx, sy = segments(series)
        bx += sx; by += sy
    p.multi_line(xs=bx, ys=by, line_color="#2e2e2e", line_width=1.0)

    rx, ry = [], []
    for series in RED[gid]:
        sx, sy = segments(series)
        rx += sx; ry += sy
    p.multi_line(xs=rx, ys=ry, line_color="#e8130f", line_width=2.8,
                 line_join="round", line_cap="round")

    p.add_layout(Label(x=1.0, y=9.6, text=gid, text_font=FONT,
                       text_font_size="19px", text_color=TXT_COLOR,
                       text_baseline="alphabetic", text_align="left"))
    return p


rows = []
for i in range(5):
    figs = [make_panel(i, j, IDS[i * 5 + j]) for j in range(5)]
    rows.append(row(*figs, spacing=0))
grid = column(*rows, spacing=0)

GRID_H = (59 + FRAME_H + 12) + 3 * (1 + FRAME_H + 12) + (1 + FRAME_H + 40)
YL_W = 64

# y-axis title figure (texts placed in pixel coordinates of the page)
yl = figure(width=YL_W, height=GRID_H, x_range=Range1d(0, YL_W), y_range=Range1d(0, GRID_H),
            output_backend="svg", toolbar_location=None,
            x_axis_location=None, y_axis_location=None, min_border=0)
yl.grid.visible = False
yl.outline_line_color = None


def ypix(page_y):
    return GRID_H - page_y


common = dict(angle=np.pi / 2, text_align="left", text_baseline="alphabetic",
              text_color=TXT_COLOR, text_font=value(FONT))
yl.text(x=[42], y=[ypix(676)], text=["σ"], text_font_size=value("22px"),
        text_font_style="italic", **common)
yl.text(x=[47], y=[ypix(662)], text=["R"], text_font_size=value("15px"), **common)
yl.text(x=[42], y=[ypix(621)], text=["[km"], text_font_size=value("22px"), **common)
yl.text(x=[42], y=[ypix(550)], text=["s"], text_font_size=value("22px"), **common)
yl.text(x=[33], y=[ypix(535)], text=["-1"], text_font_size=value("15px"), **common)
yl.text(x=[42], y=[ypix(517)], text=["]"], text_font_size=value("22px"), **common)

XL_H = 50
XL_W = YL_W + 366 + 4 * 316
xl = figure(width=XL_W, height=XL_H, x_range=Range1d(0, XL_W), y_range=Range1d(0, XL_H),
            output_backend="svg", toolbar_location=None,
            x_axis_location=None, y_axis_location=None, min_border=0)
xl.grid.visible = False
xl.outline_line_color = None
xl.text(x=[938], y=[XL_H - (1158 - GRID_H)],
        text=["Galactocentric distance [kpc]"], text_align="center", text_baseline="middle",
        text_color=TXT_COLOR, text_font=value(FONT), text_font_size=value("26px"))

layout = column(row(yl, grid, spacing=0), xl, spacing=0)

open("out.html", "w").write(file_html(layout, INLINE))
